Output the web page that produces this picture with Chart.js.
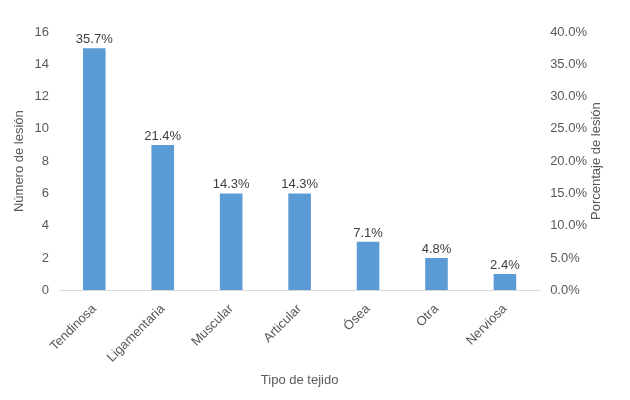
<!DOCTYPE html>
<html><head><meta charset="utf-8">
<script src="https://cdn.jsdelivr.net/npm/chart.js@4"></script>
<style>body{margin:0;background:#fff}#w{width:630px;height:400px}</style>
</head><body><div id="w"><canvas id="c"></canvas></div>
<script>
const categories=["Tendinosa","Ligamentaria","Muscular","Articular","Ósea","Otra","Nerviosa"];
const counts=[15,9,6,6,3,2,1];
const percentLabels=["35.7%","21.4%","14.3%","14.3%","7.1%","4.8%","2.4%"];
const font={family:"Liberation Sans, Arial",size:13};
const labelPlugin={id:'pl',afterDraw(ch){const ctx=ch.ctx;const m=ch.getDatasetMeta(0);ctx.save();ctx.font="13px Liberation Sans, Arial";ctx.fillStyle="#404040";ctx.textAlign="center";ctx.textBaseline="bottom";m.data.forEach((b,i)=>ctx.fillText(percentLabels[i],b.x,b.y-2));
const a=ch.chartArea;ctx.fillStyle="#595959";ctx.translate(596,(a.top+a.bottom)/2);ctx.rotate(-Math.PI/2);ctx.textBaseline="middle";ctx.fillText("Porcentaje de lesión",0,0);ctx.restore();}};
new Chart(document.getElementById('c'),{type:'bar',
data:{labels:categories,datasets:[{data:counts,backgroundColor:'#5B9BD5',barPercentage:0.33,categoryPercentage:1,yAxisID:'y'}]},
options:{responsive:true,maintainAspectRatio:false,animation:false,
layout:{padding:{top:32,right:40,left:8,bottom:8}},
plugins:{legend:{display:false},tooltip:{enabled:false}},
scales:{
x:{grid:{display:false},border:{color:'#d9d9d9'},ticks:{color:'#595959',font,maxRotation:45,minRotation:45},title:{display:true,text:'Tipo de tejido',color:'#595959',font}},
y:{min:0,max:16,ticks:{stepSize:2,color:'#595959',font},grid:{display:false},border:{display:false},title:{display:true,text:'Número de lesión',color:'#595959',font}},
y1:{display:true,position:'right',min:0,max:40,ticks:{stepSize:5,color:'#595959',font,callback:v=>v.toFixed(1)+'%'},grid:{display:false},border:{display:false}}
}},plugins:[labelPlugin]});
</script></body></html>
